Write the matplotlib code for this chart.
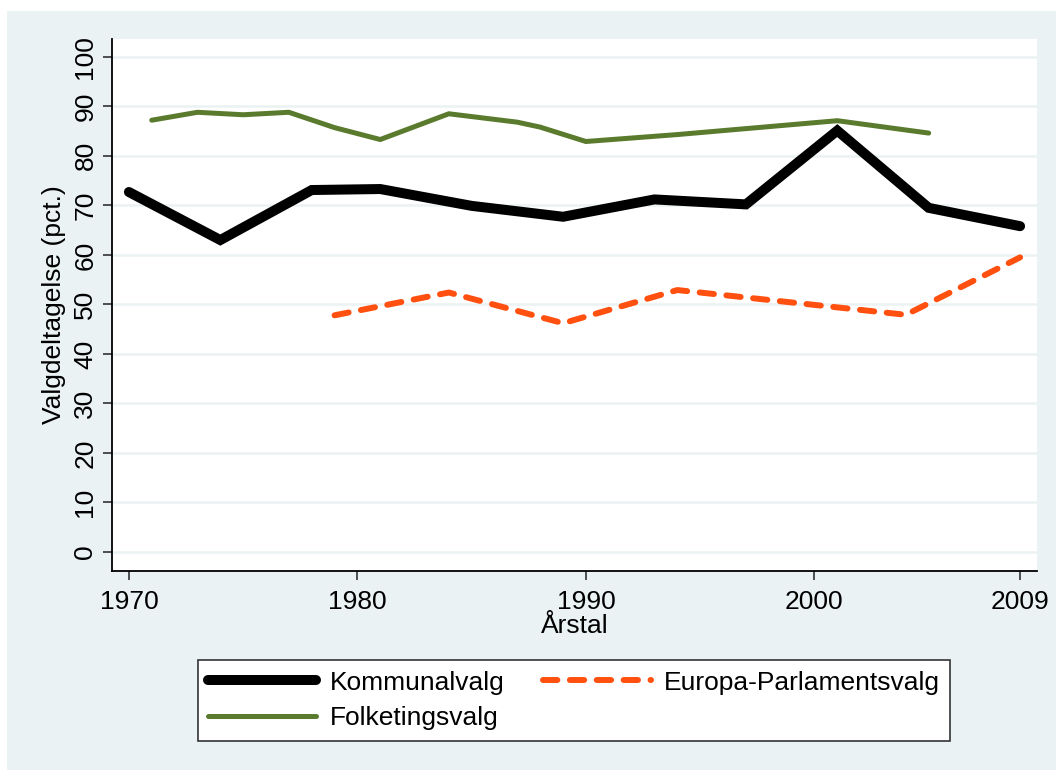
import matplotlib
matplotlib.use("Agg")
import matplotlib.pyplot as plt
from matplotlib.patches import Rectangle

plt.rcParams['font.family'] = ['Liberation Sans', 'DejaVu Sans']

# Data
komm_years = [1970, 1974, 1978, 1981, 1985, 1989, 1993, 1997, 2001, 2005, 2009]
komm_vals = [72.7, 63.0, 73.1, 73.3, 69.9, 67.7, 71.2, 70.2, 85.1, 69.5, 65.8]

folk_years = [1971, 1973, 1975, 1977, 1979, 1981, 1984, 1987, 1988, 1990, 1994, 1998, 2001, 2005]
folk_vals = [87.2, 88.8, 88.3, 88.8, 85.7, 83.3, 88.5, 86.8, 85.8, 82.9, 84.3, 85.9, 87.1, 84.6]

eu_years = [1979, 1984, 1989, 1994, 1999, 2004, 2009]
eu_vals = [47.8, 52.4, 46.2, 52.9, 50.4, 47.9, 59.5]

x_ticks = [1970, 1980, 1990, 2000, 2009]
y_ticks = list(range(0, 101, 10))

BG = '#EAF2F3'
GREEN = '#5A7A2E'
ORANGE = '#FF5010'
FS = 19

fig = plt.figure(figsize=(10.56, 7.71), dpi=100)
fig.patch.set_facecolor('white')
W, H = 1056, 771
fig.patches.append(Rectangle((7 / W, 1 - 770 / H), (1056 - 7) / W, (770 - 11) / H,
                             transform=fig.transFigure, facecolor=BG, edgecolor='none', zorder=-10))

ax = fig.add_axes([112 / W, 1 - 571 / H, (1037 - 112) / W, (571 - 39) / H])
ax.set_facecolor('white')

for y in y_ticks:
    ax.axhline(y, color=BG, lw=1.8, zorder=0)

ax.plot(komm_years, komm_vals, color='black', lw=7.2, solid_capstyle='round',
        solid_joinstyle='miter', label='Kommunalvalg', zorder=3)
ax.plot(folk_years, folk_vals, color=GREEN, lw=3.6, solid_capstyle='round',
        solid_joinstyle='miter', label='Folketingsvalg', zorder=2)
l_eu, = ax.plot(eu_years, eu_vals, color=ORANGE, lw=4.3, dash_capstyle='round',
                label='Europa-Parlamentsvalg', zorder=2)
l_eu.set_dashes((2.4, 2.1))

ax.set_xlim(1969.26, 2009.74)
ax.set_ylim(-3.84, 103.6)
ax.set_xticks(x_ticks)
ax.set_yticks(y_ticks)
ax.tick_params(axis='both', labelsize=FS, length=6.5, width=1.2, color='#333333')
ax.tick_params(axis='x', pad=7)
ax.tick_params(axis='y', pad=4)
for lab in ax.get_yticklabels():
    lab.set_rotation(90)
    lab.set_va('center')

for s in ['top', 'right']:
    ax.spines[s].set_visible(False)
for s in ['left', 'bottom']:
    ax.spines[s].set_linewidth(1.3)
    ax.spines[s].set_color('black')

ax.set_xlabel('Årstal', fontsize=FS, labelpad=0)
ax.set_ylabel('Valgdeltagelse (pct.)', fontsize=FS, labelpad=5)

h, l = ax.get_legend_handles_labels()
leg = fig.legend([h[0], h[1], h[2]], [l[0], l[1], l[2]], ncol=2,
                 loc='center', bbox_to_anchor=((197 + 951) / 2 / W, 1 - 700.5 / H),
                 bbox_transform=fig.transFigure, fontsize=FS, frameon=True,
                 fancybox=False, edgecolor='#333333', framealpha=1,
                 handlelength=4.1, handletextpad=0.5, columnspacing=1.45,
                 labelspacing=0.45, borderpad=0.4)
leg.get_frame().set_linewidth(1.2)

fig.savefig('out.png', dpi=100)
